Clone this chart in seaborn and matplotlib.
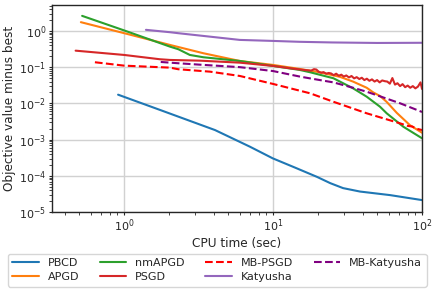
import numpy as np
import pandas as pd
import seaborn as sns
import matplotlib
matplotlib.use("Agg")
import matplotlib.pyplot as plt

# series (CPU time in sec, objective minus best)
pbcd_t = [0.91, 1.74, 4.07, 6.98, 9.96, 14.0, 19.7, 24.2, 29.5, 38.3, 61.0, 100.0]
pbcd_v = [0.0174, 0.0066, 0.00184, 0.00064, 0.000304, 0.00017, 9.4e-05, 6.3e-05, 4.6e-05, 3.7e-05, 2.95e-05, 2.15e-05]

apgd_t = [0.512, 1.0, 2.03, 3.4, 5.98, 10.0, 15.1, 20.6, 28.1, 34.4, 42.5, 47.1, 52.2, 57.9, 67.6, 83.0, 100.0]
apgd_v = [1.74, 0.865, 0.41, 0.242, 0.148, 0.115, 0.089, 0.072, 0.054, 0.040, 0.027, 0.020, 0.016, 0.011, 0.0055, 0.0025, 0.00155]

nmapgd_t = [0.522, 1.0, 2.03, 2.31, 2.76, 3.4, 5.98, 10.0, 15.1, 17.7, 25.4, 34.4, 42.5, 52.2, 57.9, 74.9, 100.0]
nmapgd_v = [2.6, 1.03, 0.368, 0.312, 0.217, 0.1875, 0.148, 0.108, 0.0837, 0.0723, 0.0494, 0.0261, 0.0153, 0.0081, 0.00533, 0.00227, 0.00109]

psgd_t = [0.472, 1.0, 1.74, 2.03, 3.23, 5.98, 10.0, 13.0, 16.0,
          18.0, 18.8, 19.5, 20.3, 21.0, 21.8, 22.7, 23.6, 24.5, 25.5, 26.5, 27.6, 28.7, 29.8,
          31.0, 32.3, 33.6, 35.0, 36.4, 37.9, 39.4, 41.0, 42.6, 44.3, 46.1, 48.0, 49.9, 51.9,
          54.0, 56.2, 58.4, 60.8, 63.2, 65.8, 68.4, 71.2, 74.0, 77.0, 80.1, 83.3, 86.7, 90.2,
          93.8, 97.6, 100.0]
psgd_v = [0.285, 0.217, 0.165, 0.158, 0.151, 0.133, 0.108, 0.093, 0.084,
          0.080, 0.088, 0.086, 0.074, 0.070, 0.073, 0.066, 0.069, 0.067, 0.060, 0.066, 0.058, 0.062, 0.055,
          0.059, 0.052, 0.057, 0.049, 0.053, 0.047, 0.051, 0.044, 0.048, 0.042, 0.046, 0.040, 0.044, 0.038,
          0.043, 0.041, 0.040, 0.035, 0.050, 0.033, 0.036, 0.030, 0.034, 0.028, 0.031, 0.027, 0.030, 0.026,
          0.029, 0.038, 0.025]

mbpsgd_t = [0.636, 1.0, 2.03, 2.31, 3.77, 5.98, 10.0, 17.7, 25.4, 42.5, 71.1, 80.0, 86.0, 92.0, 100.0]
mbpsgd_v = [0.1365, 0.110, 0.097, 0.0875, 0.0751, 0.0571, 0.0344, 0.019, 0.0111, 0.00533, 0.00282, 0.0024, 0.0023, 0.0020, 0.00184]

katyusha_t = [1.40, 2.03, 2.31, 5.98, 10.0, 15.1, 25.0, 50.0, 100.0]
katyusha_v = [1.07, 0.92, 0.864, 0.564, 0.529, 0.50, 0.48, 0.465, 0.47]

mbkat_t = [1.76, 2.31, 3.23, 5.98, 10.0, 15.1, 17.7, 25.4, 34.4, 42.5, 71.1, 100.0]
mbkat_v = [0.139, 0.128, 0.117, 0.100, 0.078, 0.055, 0.049, 0.038, 0.027, 0.021, 0.0101, 0.0058]

names = ["PBCD", "APGD", "nmAPGD", "PSGD", "MB-PSGD", "Katyusha", "MB-Katyusha"]
colors = ["#1f77b4", "#ff7f0e", "#2ca02c", "#d62728", "red", "#9467bd", "purple"]
styles = ["-", "-", "-", "-", "--", "-", "--"]
series = [(pbcd_t, pbcd_v), (apgd_t, apgd_v), (nmapgd_t, nmapgd_v), (psgd_t, psgd_v),
          (mbpsgd_t, mbpsgd_v), (katyusha_t, katyusha_v), (mbkat_t, mbkat_v)]

sns.set_style("whitegrid", {"axes.edgecolor": ".15", "xtick.bottom": True, "ytick.left": True,
                            "grid.color": ".82"})
plt.rcParams["font.family"] = ["DejaVu Sans"]
plt.rcParams["mathtext.fontset"] = "cm"

fig, ax = plt.subplots(figsize=(4.36, 2.91), dpi=100)
fig.subplots_adjust(left=0.119, right=0.968, top=0.983, bottom=0.271)

for name, c, ls, (t, v) in zip(names, colors, styles, series):
    df = pd.DataFrame({"t": t, "v": v})
    sns.lineplot(data=df, x="t", y="v", ax=ax, color=c, linestyle=ls, lw=1.5,
                 label=name, legend=False, sort=False)

ax.set_xscale("log")
ax.set_yscale("log")
ax.set_xlim(0.327, 100)
ax.set_ylim(1e-5, 5.2)
ax.grid(True, which="major", lw=1.0)
ax.grid(False, which="minor")
ax.tick_params(which="major", length=2.5, width=0.8, labelsize=8, pad=1.5)
ax.tick_params(which="minor", length=2, width=0.6)
ax.set_xlabel("CPU time (sec)", fontsize=8.7, labelpad=2)
ax.set_ylabel("Objective value minus best", fontsize=8.7, labelpad=2)
for s in ax.spines.values():
    s.set_linewidth(1.0)

handles, labels = ax.get_legend_handles_labels()
fig.legend(handles, labels, loc="lower center", bbox_to_anchor=(0.498, 0.015), ncol=4,
           fontsize=8, frameon=True, edgecolor=".8", handlelength=2.4, handletextpad=0.8,
           columnspacing=1.85, borderpad=0.4, labelspacing=0.35, borderaxespad=0)

fig.savefig("out.png", dpi=100)
